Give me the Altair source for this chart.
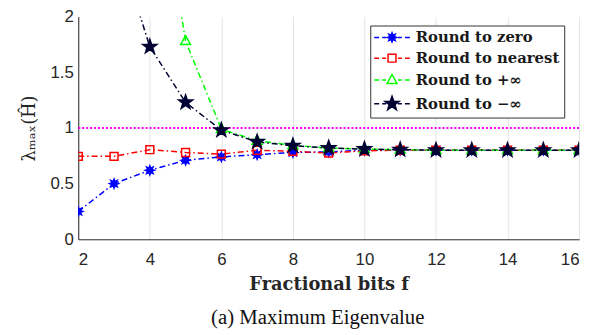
import math
import altair as alt
import pandas as pd

# ---------------- data ----------------
bits = list(range(2, 17))
series_names = ["Round to zero", "Round to nearest", "Round to +∞", "Round to −∞"]
round_zero    = [0.25, 0.50, 0.62, 0.71, 0.74, 0.76, 0.78, 0.785, 0.80, 0.80, 0.80, 0.80, 0.80, 0.80, 0.80]
round_nearest = [0.745, 0.745, 0.805, 0.78, 0.765, 0.80, 0.79, 0.775, 0.795, 0.80, 0.80, 0.80, 0.80, 0.80, 0.80]
round_plus    = [8.0, 5.5, 3.8, 1.78, 0.99, 0.885, 0.845, 0.82, 0.81, 0.805, 0.80, 0.80, 0.80, 0.80, 0.80]
round_minus   = [4.5, 2.75, 1.73, 1.23, 0.98, 0.875, 0.84, 0.82, 0.81, 0.805, 0.80, 0.80, 0.80, 0.80, 0.80]
x_ticks = [2, 4, 6, 8, 10, 12, 14, 16]
y_ticks = [0, 0.5, 1, 1.5, 2]
threshold = 1

series_values = [round_zero, round_nearest, round_plus, round_minus]
rows = []
for name, vals in zip(series_names, series_values):
    for b, v in zip(bits, vals):
        rows.append({"bits": b, "value": v, "series": name})
df = pd.DataFrame(rows)

# ---------------- styles ----------------
stroke_colors = ["#0000ff", "#ff0000", "#00ff00", "#000033"]
fill_colors = ["#0000ff", "transparent", "transparent", "#000033"]


def fmt(v):
    return ("%.3f" % v).rstrip("0").rstrip(".")


def poly(pts, s):
    return "M" + "L".join(f"{fmt(x / s)},{fmt(y / s)}" for x, y in pts) + "Z"


def star_pts(n, r_out, r_in):
    pts = []
    for i in range(2 * n):
        r = r_out if i % 2 == 0 else r_in
        a = -math.pi / 2 + i * math.pi / n
        pts.append((r * math.cos(a), r * math.sin(a)))
    return pts


marker_px = [
    star_pts(8, 4.6, 2.4),                       # asterisk-like blob
    [(-4, -4), (4, -4), (4, 4), (-4, 4)],        # square
    [(0, -5.5), (5, 3.5), (-5, 3.5)],            # triangle
    star_pts(5, 7.5, 3.0),                       # star
]


def marker_paths(s):
    return [poly(p, s) for p in marker_px]


def legend_paths(s):
    segs = [(-18, -13), (-10, -6), (6, 10), (13, 18)]
    line = "".join(f"M{fmt(a / s)},0L{fmt(b / s)},0" for a, b in segs)
    return [line + m for m in marker_paths(s)]


PT_SIZE = 100          # 5 px per path unit
LG_SIZE = 196          # 7 px per path unit

x_axis = alt.Axis(values=x_ticks, title="Fractional bits f", titleFont="DejaVu Serif",
                  titleFontWeight="bold", titleFontSize=18, titleColor="#262626", titlePadding=9,
                  labelFont="Liberation Sans", labelFontSize=17, labelColor="#262626",
                  labelPadding=12, ticks=False, domainColor="#262626", gridColor="#e5e5e5")
y_axis = alt.Axis(values=y_ticks, format="~g", title="λₘₐₓ(Ĥ)", titleFont="DejaVu Serif",
                  titleFontWeight="normal", titleFontSize=18, titleColor="#262626", titlePadding=12,
                  labelFont="Liberation Sans", labelFontSize=17, labelColor="#262626",
                  labelPadding=5, ticks=False, domainColor="#262626", gridColor="#e5e5e5")

x_enc = alt.X("bits:Q", scale=alt.Scale(domain=[2, 16], nice=False), axis=x_axis)
y_enc = alt.Y("value:Q", scale=alt.Scale(domain=[0, 2], nice=False), axis=y_axis)

stroke_scale = alt.Scale(domain=series_names, range=stroke_colors)
fill_scale = alt.Scale(domain=series_names, range=fill_colors)

rule = alt.Chart().mark_rule(color="#ff00ff", strokeWidth=2, strokeDash=[2, 2]).encode(
    y=alt.datum(threshold)
)

lines = alt.Chart(df).mark_line(strokeWidth=1.5, strokeDash=[6, 3, 1.5, 3], clip=True).encode(
    x=x_enc, y=y_enc,
    stroke=alt.Stroke("series:N", scale=stroke_scale, legend=None),
    order=alt.Order("bits:Q"),
)

points = alt.Chart(df).mark_point(size=PT_SIZE, strokeWidth=1.5, opacity=1, clip=True).encode(
    x=x_enc, y=y_enc,
    stroke=alt.Stroke("series:N", scale=stroke_scale, legend=None),
    fill=alt.Fill("series:N", scale=fill_scale, legend=None),
    shape=alt.Shape("series:N", scale=alt.Scale(domain=series_names, range=marker_paths(5)), legend=None),
)


def lg():
    return alt.Legend(title=None, orient="none", legendX=295, legendY=9,
                      strokeColor="#333333", fillColor="white", padding=4, cornerRadius=0,
                      labelFont="DejaVu Serif", labelFontWeight="bold", labelFontSize=15,
                      labelColor="#1a1a1a", labelOffset=16, symbolOffset=10, rowPadding=5,
                      symbolSize=LG_SIZE, symbolStrokeWidth=1.5, symbolOpacity=1)


legend_layer = alt.Chart(df).transform_filter("false").mark_point(
    size=LG_SIZE, strokeWidth=1.5, opacity=1
).encode(
    stroke=alt.Stroke("series:N", scale=stroke_scale, legend=lg()),
    fill=alt.Fill("series:N", scale=fill_scale, legend=lg()),
    shape=alt.Shape("series:N", scale=alt.Scale(domain=series_names, range=legend_paths(7)), legend=lg()),
)

chart = alt.layer(rule, lines, points, legend_layer).resolve_scale(
    stroke="independent", fill="independent", shape="independent"
).properties(
    width=506, height=225, autosize="none",
    padding={"left": 71, "top": 7, "right": 8, "bottom": 95},
    title=alt.Title("(a) Maximum Eigenvalue", orient="bottom", anchor="middle",
                    font="Liberation Serif", fontSize=21, fontWeight="normal",
                    color="#111111", offset=14, dx=-11),
).configure_view(stroke=None)

chart.save("out.html", embed_options={"renderer": "svg", "actions": False})
